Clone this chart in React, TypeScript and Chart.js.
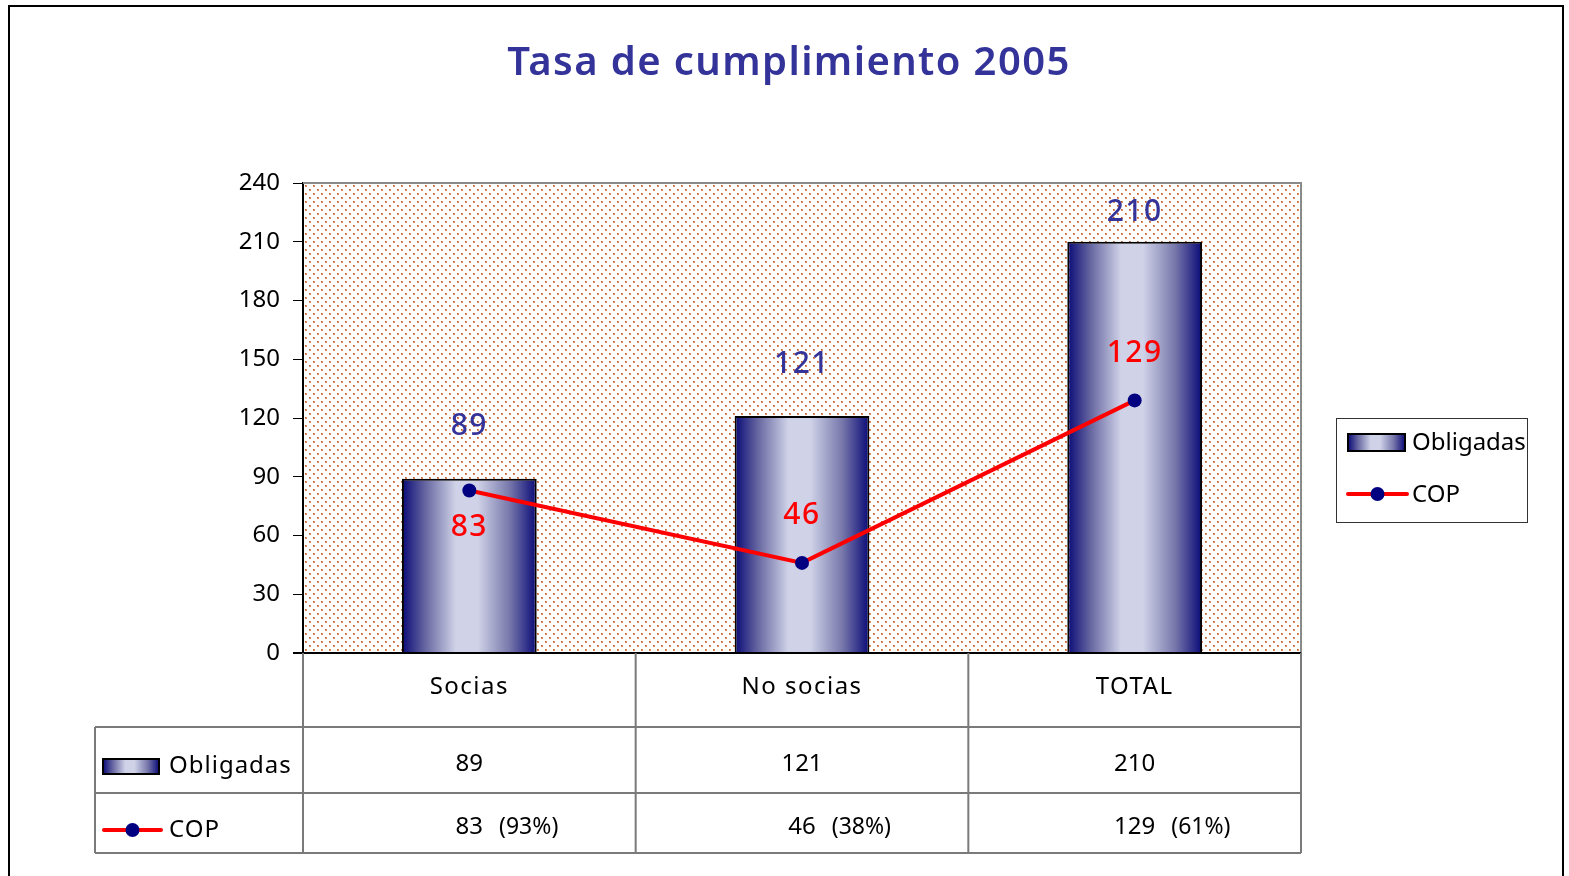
import { useEffect, useRef } from 'react';
import { Chart, registerables } from 'chart.js';

Chart.register(...registerables);

const chartTitle = 'Tasa de cumplimiento 2005';
const categories = ['Socias', 'No socias', 'TOTAL'];
const seriesNames = ['Obligadas', 'COP'];
const obligadas = [89, 121, 210];
const cop = [83, 46, 129];
const yMin = 0;
const yMax = 240;
const yStep = 30;

const FONT = '"Noto Sans", "DejaVu Sans", sans-serif';
const NAVY = '#000080';
const TITLE_BLUE = '#333399';
const RED = '#FF0000';
const TABLE_LINE = '#7a7a7a';

function barGradient(ctx: CanvasRenderingContext2D, x0: number, x1: number) {
  const g = ctx.createLinearGradient(x0, 0, x1, 0);
  g.addColorStop(0, '#0a0a78');
  g.addColorStop(0.18, '#6a6aa3');
  g.addColorStop(0.4, '#d0d3e8');
  g.addColorStop(0.56, '#d0d3e8');
  g.addColorStop(0.8, '#7777ab');
  g.addColorStop(1, '#0a0a78');
  return g;
}

function makePattern(ctx: CanvasRenderingContext2D) {
  const c = document.createElement('canvas');
  c.width = 8;
  c.height = 8;
  const p = c.getContext('2d')!;
  p.fillStyle = '#ffffff';
  p.fillRect(0, 0, 8, 8);
  p.fillStyle = 'rgba(210,125,75,0.85)';
  p.fillRect(1, 1, 2, 2);
  p.fillRect(5, 5, 2, 2);
  p.fillStyle = 'rgb(190,90,40)';
  p.fillRect(1, 1, 1, 1);
  p.fillRect(5, 5, 1, 1);
  return ctx.createPattern(c, 'repeat')!;
}

function drawLineSymbol(ctx: CanvasRenderingContext2D, x0: number, x1: number, y: number) {
  ctx.save();
  ctx.strokeStyle = RED;
  ctx.lineWidth = 4;
  ctx.lineCap = 'round';
  ctx.beginPath();
  ctx.moveTo(x0, y);
  ctx.lineTo(x1, y);
  ctx.stroke();
  ctx.fillStyle = NAVY;
  ctx.beginPath();
  ctx.arc((x0 + x1) / 2, y, 7, 0, Math.PI * 2);
  ctx.fill();
  ctx.restore();
}

function drawBarSymbol(ctx: CanvasRenderingContext2D, x: number, y: number, w: number, h: number) {
  ctx.save();
  ctx.fillStyle = barGradient(ctx, x, x + w);
  ctx.fillRect(x, y, w, h);
  ctx.strokeStyle = '#000';
  ctx.lineWidth = 2;
  ctx.strokeRect(x, y, w, h);
  ctx.restore();
}

const decorPlugin = {
  id: 'decor',
  beforeDraw(chart: any) {
    const { ctx, chartArea: a } = chart;
    ctx.save();
    ctx.fillStyle = '#fff';
    ctx.fillRect(0, 0, chart.width, chart.height);
    ctx.strokeStyle = '#000';
    ctx.lineWidth = 2;
    ctx.strokeRect(9, 6, 1554, 900);
    ctx.fillStyle = makePattern(ctx);
    ctx.fillRect(a.left, a.top, a.right - a.left, a.bottom - a.top);
    ctx.restore();
  },
  afterDatasetsDraw(chart: any) {
    const { ctx, chartArea: a } = chart;
    const x = chart.scales.x;
    const y = chart.scales.y;
    ctx.save();
    ctx.textAlign = 'center';
    ctx.textBaseline = 'middle';
    ctx.font = `500 30px ${FONT}`;
    (ctx as any).letterSpacing = '1.5px';
    categories.forEach((_, i) => {
      const cx = x.getPixelForValue(i);
      const barTop = y.getPixelForValue(obligadas[i]);
      const ly = Math.max(barTop - 52, a.top + 29);
      ctx.fillStyle = TITLE_BLUE;
      ctx.fillText(String(obligadas[i]), cx, ly);
      const py = y.getPixelForValue(cop[i]);
      const below = Math.abs(py - barTop) < 25;
      ctx.fillStyle = RED;
      ctx.fillText(String(cop[i]), cx, below ? py + 37 : py - 47);
    });
    ctx.restore();
  },
  afterDraw(chart: any) {
    const { ctx, chartArea: a } = chart;
    const x = chart.scales.x;
    ctx.save();
    ctx.strokeStyle = '#8a8a8a';
    ctx.lineWidth = 2;
    ctx.beginPath();
    ctx.moveTo(a.left, a.top);
    ctx.lineTo(a.right, a.top);
    ctx.lineTo(a.right, a.bottom);
    ctx.stroke();
    ctx.strokeStyle = '#000';
    ctx.lineWidth = 2;
    ctx.beginPath();
    ctx.moveTo(a.left - 10, a.bottom);
    ctx.lineTo(a.right, a.bottom);
    ctx.stroke();

    ctx.fillStyle = TITLE_BLUE;
    ctx.font = `600 40px ${FONT}`;
    ctx.textAlign = 'center';
    ctx.textBaseline = 'middle';
    (ctx as any).letterSpacing = '1.4px';
    ctx.fillText(chartTitle, 789, 64);
    (ctx as any).letterSpacing = '0px';

    ctx.strokeStyle = '#333';
    ctx.lineWidth = 1;
    ctx.strokeRect(1336.5, 418.5, 191, 104);
    drawBarSymbol(ctx, 1348, 434, 57, 17);
    drawLineSymbol(ctx, 1348, 1407, 494);
    ctx.fillStyle = '#000';
    ctx.textAlign = 'left';
    ctx.font = `24px ${FONT}`;
    ctx.fillText(seriesNames[0], 1412, 443);
    ctx.fillText(seriesNames[1], 1412, 495);

    const catW = (a.right - a.left) / categories.length;
    const r0 = a.bottom;
    const r1 = 727;
    const r2 = 793;
    const r3 = 853;
    const tableLeft = 95;
    ctx.strokeStyle = TABLE_LINE;
    ctx.lineWidth = 2;
    ctx.beginPath();
    for (let i = 0; i <= categories.length; i++) {
      const vx = a.left + i * catW;
      ctx.moveTo(vx, r0);
      ctx.lineTo(vx, r3);
    }
    ctx.moveTo(tableLeft, r1);
    ctx.lineTo(a.right, r1);
    ctx.moveTo(tableLeft, r2);
    ctx.lineTo(a.right, r2);
    ctx.moveTo(tableLeft, r3);
    ctx.lineTo(a.right, r3);
    ctx.moveTo(tableLeft, r1);
    ctx.lineTo(tableLeft, r3);
    ctx.stroke();

    ctx.fillStyle = '#000';
    ctx.textBaseline = 'middle';
    ctx.font = `24px ${FONT}`;
    (ctx as any).letterSpacing = '1.5px';
    ctx.textAlign = 'center';
    categories.forEach((c, i) => {
      const cx = x.getPixelForValue(i);
      ctx.fillText(c, cx, 687);
    });
    (ctx as any).letterSpacing = '0px';
    categories.forEach((_, i) => {
      const cx = x.getPixelForValue(i);
      ctx.font = `24px ${FONT}`;
      ctx.textAlign = 'center';
      ctx.fillText(String(obligadas[i]), cx, 764);
      const s = String(cop[i]);
      ctx.fillText(s, cx, 827);
      const w = ctx.measureText(s).width;
      ctx.font = `23px ${FONT}`;
      ctx.textAlign = 'left';
      const pct = Math.round((cop[i] / obligadas[i]) * 100);
      ctx.fillText(`(${pct}%)`, cx + w / 2 + 16, 827);
    });

    drawBarSymbol(ctx, 103, 759, 56, 15);
    drawLineSymbol(ctx, 104, 161, 830);
    ctx.fillStyle = '#000';
    ctx.textAlign = 'left';
    ctx.font = `24px ${FONT}`;
    (ctx as any).letterSpacing = '1px';
    ctx.fillText(seriesNames[0], 169, 766);
    ctx.fillText(seriesNames[1], 169, 830);
    (ctx as any).letterSpacing = '0px';
    ctx.restore();
  },
};

export default function App() {
  const ref = useRef<HTMLCanvasElement>(null);

  useEffect(() => {
    document.body.style.margin = '0';
    document.body.style.overflow = 'hidden';
    const canvas = ref.current!;
    const barFrac = 0.405;
    const chart = new Chart(canvas, {
      type: 'bar',
      data: {
        labels: categories,
        datasets: [
          {
            type: 'line',
            label: seriesNames[1],
            data: cop,
            borderColor: RED,
            borderWidth: 4,
            pointRadius: 7,
            pointBackgroundColor: NAVY,
            pointBorderColor: NAVY,
            pointBorderWidth: 0,
            tension: 0,
            order: 1,
          } as any,
          {
            type: 'bar',
            label: seriesNames[0],
            data: obligadas,
            borderColor: '#000',
            borderWidth: 2,
            borderSkipped: 'bottom',
            barPercentage: barFrac,
            categoryPercentage: 1,
            order: 2,
            backgroundColor: (c: any) => {
              const ch = c.chart;
              const xs = ch.scales.x;
              const area = ch.chartArea;
              if (!xs || !area || c.dataIndex === undefined) return NAVY;
              const cx = xs.getPixelForValue(c.dataIndex);
              const w = ((area.right - area.left) / categories.length) * barFrac;
              return barGradient(ch.ctx, cx - w / 2, cx + w / 2);
            },
          } as any,
        ],
      },
      options: {
        animation: false,
        responsive: false,
        maintainAspectRatio: false,
        devicePixelRatio: 1,
        layout: { padding: { left: 0, top: 183, right: 268, bottom: 223 } },
        plugins: { legend: { display: false }, tooltip: { enabled: false }, title: { display: false } },
        scales: {
          x: { display: false, offset: true },
          y: {
            min: yMin,
            max: yMax,
            afterFit: (s: any) => {
              s.width = 303;
            },
            ticks: {
              stepSize: yStep,
              color: '#000',
              font: { family: FONT, size: 24 },
              padding: 13,
            },
            grid: { drawOnChartArea: false, drawTicks: true, tickLength: 10, color: '#000', tickWidth: 1 },
            border: { display: true, color: '#000', width: 2 },
          },
        },
      },
      plugins: [decorPlugin],
    });
    return () => chart.destroy();
  }, []);

  return (
    <div style={{ width: 1569, height: 876 }}>
      <canvas ref={ref} width={1569} height={876} style={{ display: 'block', width: 1569, height: 876 }} />
    </div>
  );
}
